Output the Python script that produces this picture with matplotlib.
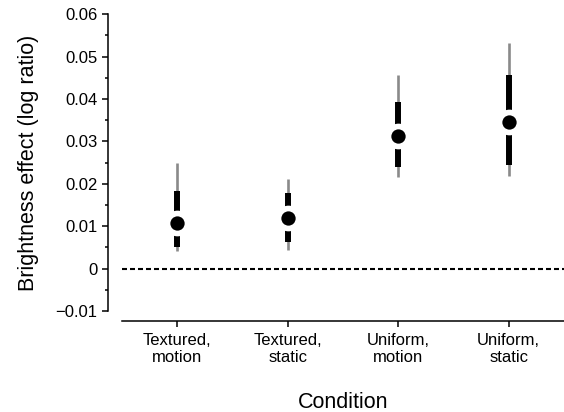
import matplotlib
matplotlib.use("Agg")
import matplotlib.pyplot as plt
from matplotlib.ticker import MultipleLocator, FuncFormatter

# данные
conditions = ["Textured,\nmotion", "Textured,\nstatic", "Uniform,\nmotion", "Uniform,\nstatic"]
effect = [0.0107, 0.0119, 0.0312, 0.0347]
ci_inner_low = [0.0050, 0.0063, 0.0239, 0.0245]
ci_inner_high = [0.0182, 0.0178, 0.0393, 0.0457]
ci_outer_low = [0.0042, 0.0045, 0.0216, 0.0219]
ci_outer_high = [0.0249, 0.0211, 0.0457, 0.0532]

plt.rcParams['font.family'] = ['Liberation Sans', 'DejaVu Sans']

fig = plt.figure(figsize=(5.64, 4.12), dpi=100)
ax = fig.add_axes([0.2163, 0.2451, 0.7837, 0.7202])

xs = list(range(1, len(conditions) + 1))

# нулевая линия
ax.axhline(0, color='black', lw=1.5, ls=(0, (2.4, 1.44)), zorder=1)

# интервалы
ax.vlines(xs, ci_outer_low, ci_outer_high, color='#8a8a8a', lw=1.9, zorder=2)
ax.vlines(xs, ci_inner_low, ci_inner_high, color='black', lw=4.3, zorder=3)
ax.plot(xs, effect, 'o', color='white', ms=18.5, mew=0, zorder=4)
ax.plot(xs, effect, 'o', color='black', ms=10.3, mew=0, zorder=5)

ax.set_xlim(0.5, 4.5)
ax.set_ylim(-0.01, 0.06)

ax.set_xticks(xs)
ax.set_xticklabels(conditions, fontsize=12, linespacing=1.15)
ax.yaxis.set_major_locator(MultipleLocator(0.01))
ax.yaxis.set_minor_locator(MultipleLocator(0.005))


def fmt(v, pos):
    if abs(v) < 1e-9:
        return "0"
    s = f"{v:.2f}"
    return s.replace("-", "\u2212")


ax.yaxis.set_major_formatter(FuncFormatter(fmt))
ax.tick_params(axis='y', which='major', length=4.3, width=1.1, labelsize=12, pad=3.5)
ax.tick_params(axis='y', which='minor', length=2.2, width=1.1)
ax.tick_params(axis='x', which='major', length=4.3, width=1.1, labelsize=12, pad=4.5)

for side in ['top', 'right']:
    ax.spines[side].set_visible(False)
ax.spines['left'].set_position(('outward', 10))
ax.spines['left'].set_bounds(-0.01, 0.06)
ax.spines['bottom'].set_position(('outward', 7))
ax.spines['left'].set_linewidth(1.1)
ax.spines['bottom'].set_linewidth(1.1)

ax.set_ylabel("Brightness effect (log ratio)", fontsize=15.5, labelpad=12)
ax.set_xlabel("Condition", fontsize=15.5, labelpad=19)

fig.savefig("out.png", dpi=100)
